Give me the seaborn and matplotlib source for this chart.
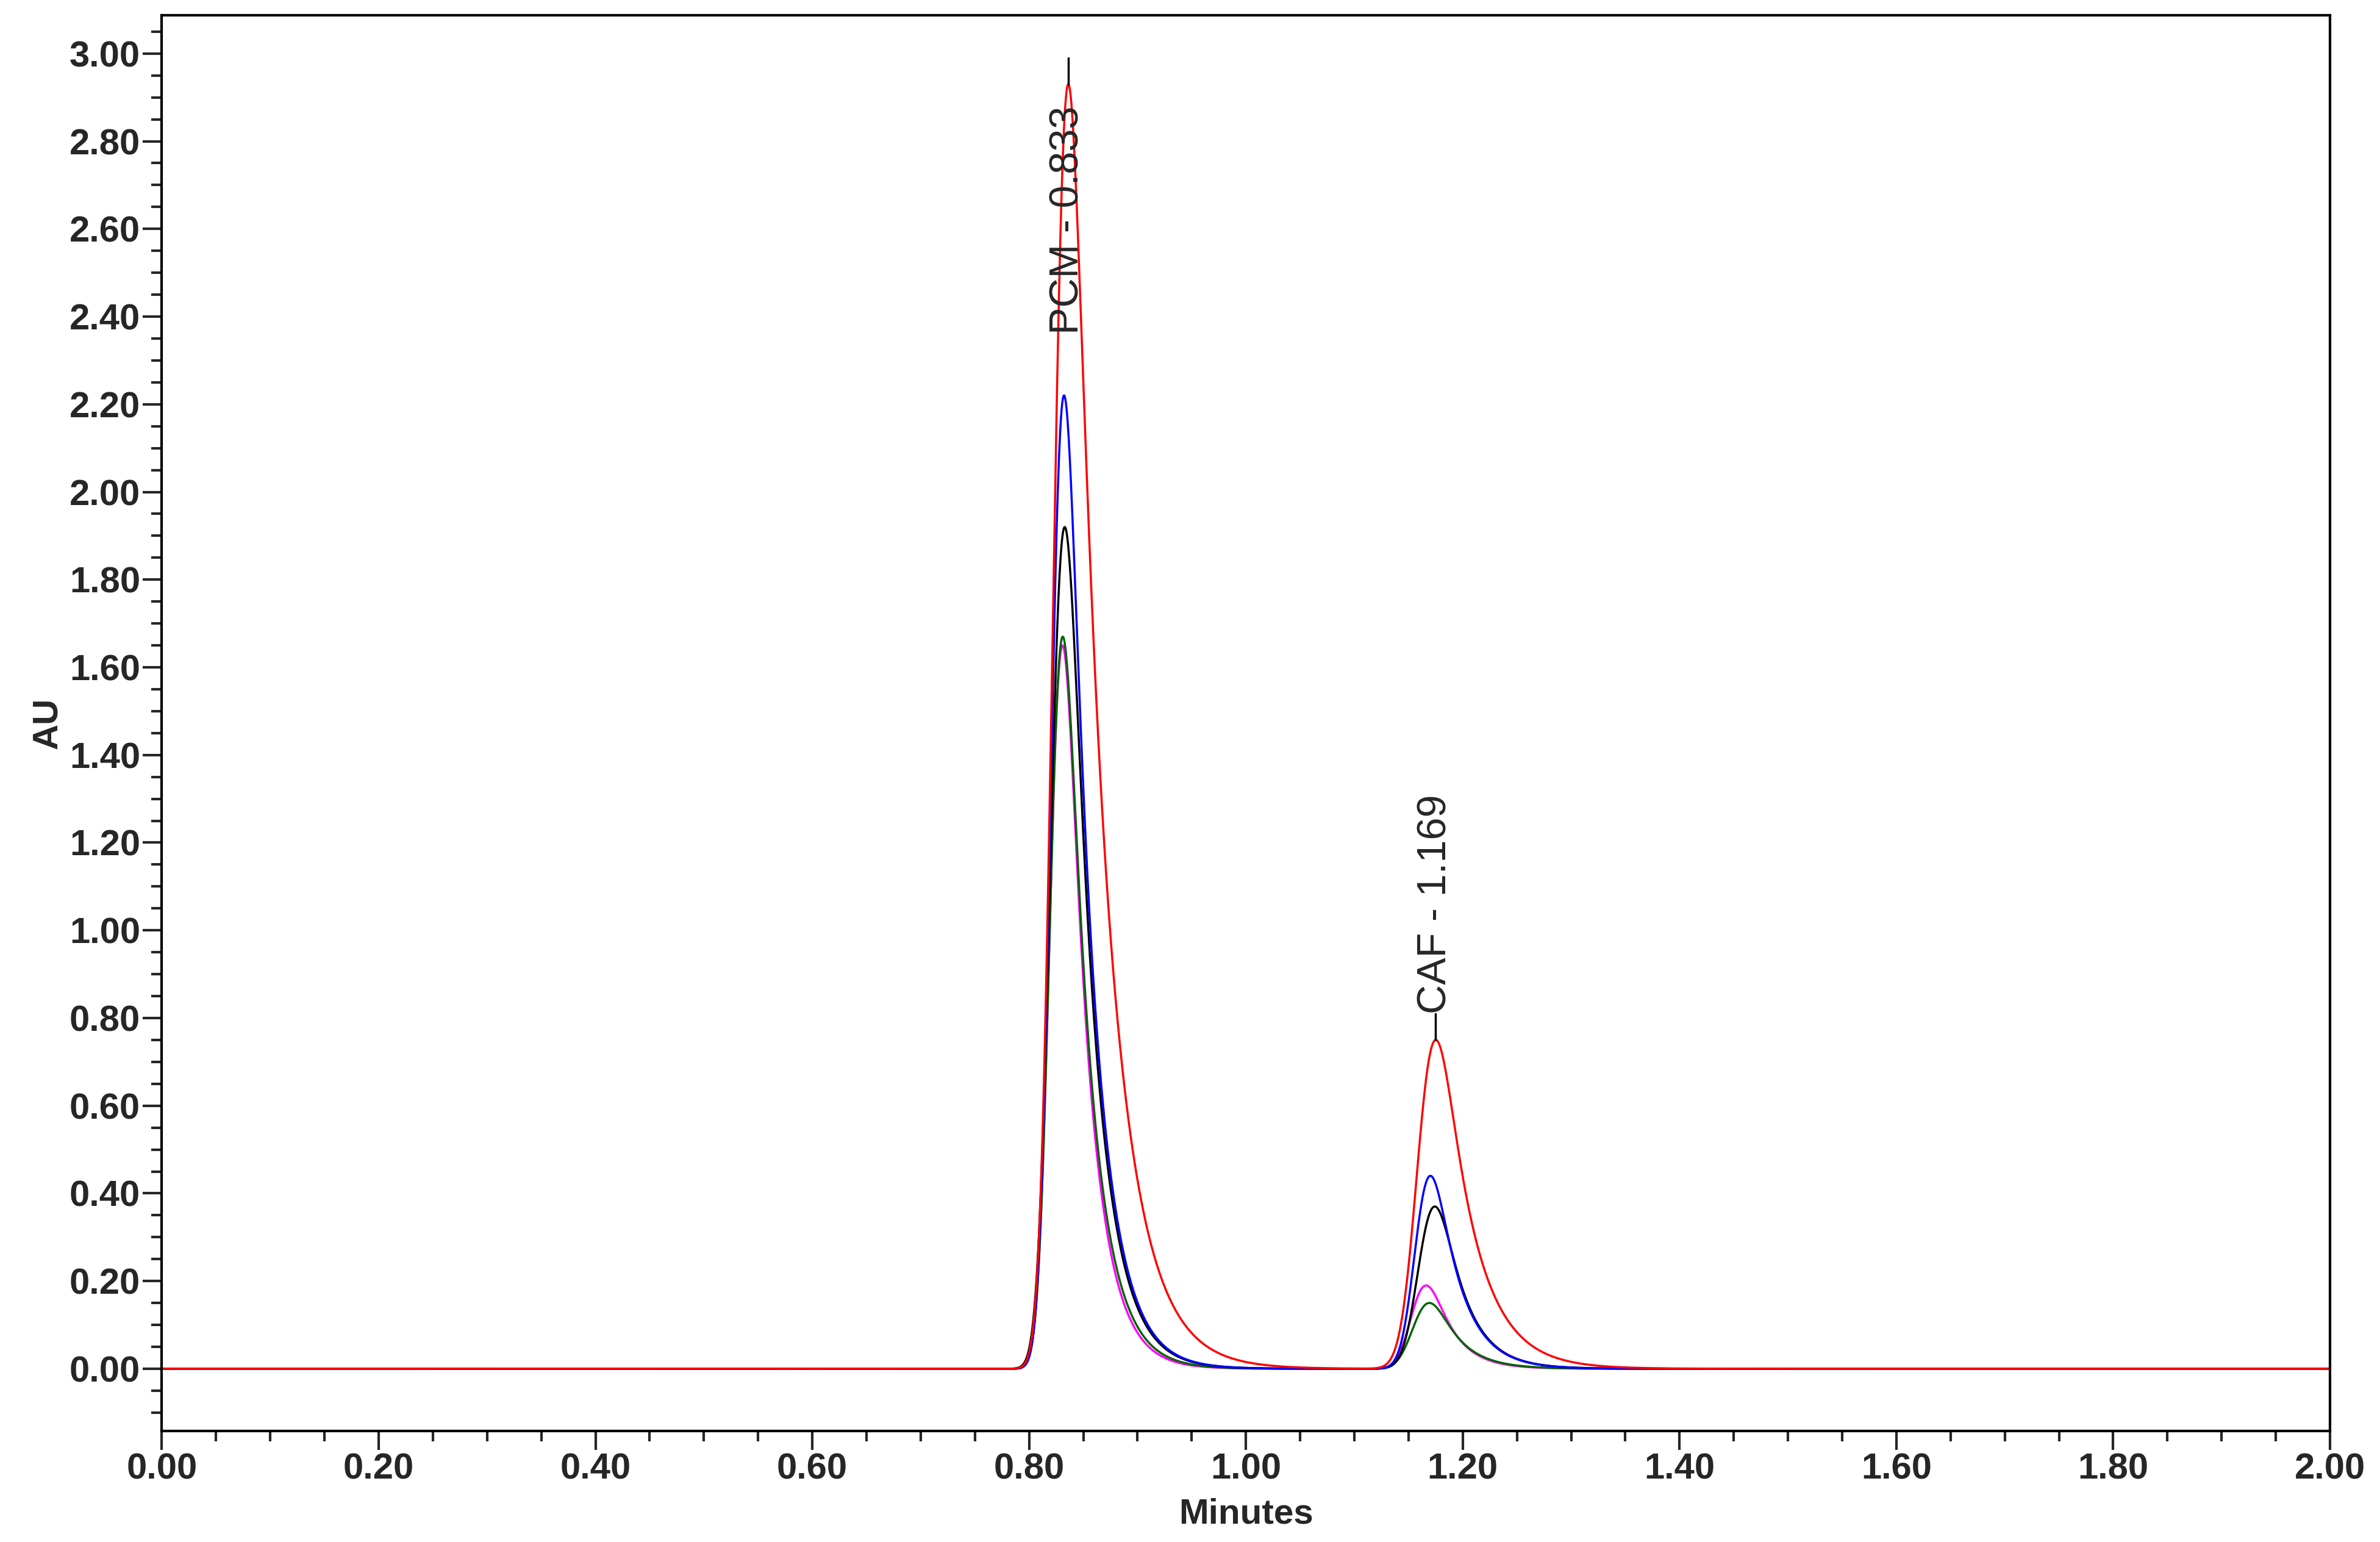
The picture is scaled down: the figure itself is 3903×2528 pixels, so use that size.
import math
import numpy as np
import pandas as pd
import matplotlib
matplotlib.use("Agg")
import matplotlib.pyplot as plt
import seaborn as sb
from matplotlib.ticker import MultipleLocator

traces = ["red", "blue", "black", "darkgreen", "magenta"]
pcm_height = [2.93, 2.22, 1.92, 1.67, 1.65]
pcm_time = [0.836, 0.832, 0.833, 0.831, 0.831]
caf_height = [0.75, 0.44, 0.37, 0.15, 0.19]
caf_time = [1.175, 1.170, 1.174, 1.169, 1.166]
pcm_sigma = [0.010, 0.009, 0.010, 0.009, 0.009]
pcm_tau = [0.030, 0.023, 0.023, 0.022, 0.021]
caf_sigma = [0.013, 0.011, 0.012, 0.012, 0.011]
caf_tau = [0.030, 0.024, 0.024, 0.024, 0.022]

t = np.linspace(0, 2, 4001)
erfc = np.vectorize(math.erfc)


# pico gaussiano com cauda exponencial, escalado para a altura lida
def pico(tr, h, s, tau):
    x = t - tr
    y = np.exp(s**2 / (2 * tau**2) - x / tau) * erfc((s / tau - x / s) / math.sqrt(2))
    y[~np.isfinite(y)] = 0
    shift = t[np.argmax(y)] - tr
    y = np.interp(t, t - shift, y)
    return h * y / y.max()


frames = []
for i, c in enumerate(traces):
    au = pico(pcm_time[i], pcm_height[i], pcm_sigma[i], pcm_tau[i]) + \
        pico(caf_time[i], caf_height[i], caf_sigma[i], caf_tau[i])
    frames.append(pd.DataFrame({"Minutes": t, "AU": au, "trace": c}))
df = pd.concat(frames[::-1], ignore_index=True)

sb.set_style("white")
plt.rcParams['font.family'] = ['Liberation Sans', 'DejaVu Sans']

fig = plt.figure(figsize=(39.03, 25.28), dpi=100)
ax = fig.add_axes([0.068, 0.072, 0.911, 0.918])
sb.lineplot(data=df, x="Minutes", y="AU", hue="trace", palette={c: c for c in traces},
            hue_order=traces[::-1], linewidth=2.5, legend=False, ax=ax, sort=False)

ax.set_xlim(0, 2)
ax.set_ylim(-0.142, 3.087)
ax.xaxis.set_major_locator(MultipleLocator(0.2))
ax.xaxis.set_minor_locator(MultipleLocator(0.05))
ax.yaxis.set_minor_locator(MultipleLocator(0.05))
ax.set_yticks(np.arange(0, 3.01, 0.2))
ax.xaxis.set_major_formatter(matplotlib.ticker.FormatStrFormatter('%.2f'))
ax.yaxis.set_major_formatter(matplotlib.ticker.FormatStrFormatter('%.2f'))
ax.tick_params(which='major', direction='out', length=22, width=3, labelsize=43, left=True, bottom=True)
ax.tick_params(which='minor', direction='out', length=12, width=3, left=True, bottom=True)
for lab in ax.get_xticklabels() + ax.get_yticklabels():
    lab.set_fontweight('bold')
for sp in ax.spines.values():
    sp.set_linewidth(3)
    sp.set_color('black')
ax.set_xlabel('Minutes', fontsize=42, fontweight='bold', labelpad=14)
ax.set_ylabel('AU', fontsize=42, fontweight='bold', labelpad=6)

# marcações dos picos
ax.plot([pcm_time[0], pcm_time[0]], [pcm_height[0], 2.99], color='black', lw=2.5)
ax.text(pcm_time[0], 2.88, "PCM - 0.833", rotation=90, ha='center', va='top', fontsize=48)
ax.plot([caf_time[0], caf_time[0]], [caf_height[0], 0.81], color='black', lw=2.5)
ax.text(caf_time[0], 0.81, "CAF - 1.169", rotation=90, ha='center', va='bottom', fontsize=48)

fig.savefig("out.png", dpi=100)
